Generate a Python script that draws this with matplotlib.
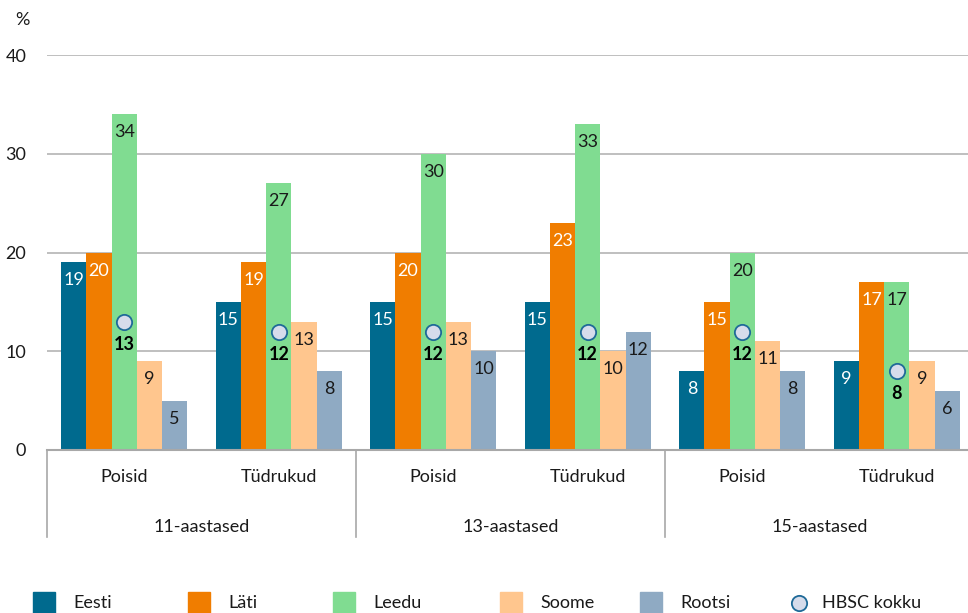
import matplotlib
matplotlib.use("Agg")
import matplotlib.pyplot as plt
import matplotlib.transforms as mtransforms
from matplotlib.patches import Rectangle
from matplotlib.lines import Line2D
import numpy as np

plt.rcParams['font.family'] = ['Lato', 'DejaVu Sans']

categories = ["Poisid", "Tüdrukud", "Poisid", "Tüdrukud", "Poisid", "Tüdrukud"]
age_groups = ["11-aastased", "13-aastased", "15-aastased"]
series_names = ["Eesti", "Läti", "Leedu", "Soome", "Rootsi"]
eesti = [19, 15, 15, 15, 8, 9]
lati = [20, 19, 20, 23, 15, 17]
leedu = [34, 27, 30, 33, 20, 17]
soome = [9, 13, 13, 10, 11, 9]
rootsi = [5, 8, 10, 12, 8, 6]
hbsc = [13, 12, 12, 12, 12, 8]
yticks = [0, 10, 20, 30, 40]

colors = ["#006a8e", "#f07d00", "#80dc91", "#ffc68e", "#8faac3"]
text_colors = ["white", "white", "#1a1a1a", "#1a1a1a", "#1a1a1a"]
marker_face = "#d6dceb"
marker_edge = "#1f6a98"
FS = 13

fig = plt.figure(figsize=(9.68, 6.13), dpi=100)
ax = fig.add_axes([47/968, 1-450/613, 927/968, (450-55)/613])

x = np.arange(len(categories))
w = 0.163
all_series = [eesti, lati, leedu, soome, rootsi]
for i, (vals, c, tc) in enumerate(zip(all_series, colors, text_colors)):
    xs = x + (i - 2) * w
    ax.bar(xs, vals, width=w, color=c, zorder=2)
    for xi, v in zip(xs, vals):
        ax.annotate(str(v), (xi, v), xytext=(0, -13), textcoords="offset points",
                    ha="center", va="center", fontsize=FS, color=tc, zorder=4)

ax.plot(x, hbsc, linestyle="none", marker="o", markersize=11,
        markerfacecolor=marker_face, markeredgecolor=marker_edge, markeredgewidth=1.3, zorder=5)
for xi, v in zip(x, hbsc):
    ax.annotate(str(v), (xi, v), xytext=(0, -16.5), textcoords="offset points",
                ha="center", va="center", fontsize=FS, fontweight="bold", color="black", zorder=5)

ax.set_xlim(-0.5, 5.5)
ax.set_ylim(0, 40)
ax.set_yticks(yticks)
ax.set_yticklabels([str(t) for t in yticks], fontsize=FS, color="#1a1a1a")
ax.yaxis.grid(True, color="#b4b4b4", linewidth=1.2, zorder=0)
ax.set_axisbelow(True)
for s in ["top", "right", "left"]:
    ax.spines[s].set_visible(False)
ax.spines["bottom"].set_color("#a8a8a8")
ax.spines["bottom"].set_linewidth(1.5)
ax.tick_params(axis="y", length=0, pad=15)
ax.tick_params(axis="x", length=0)
ax.set_xticks([])

trans = mtransforms.blended_transform_factory(ax.transData, ax.transAxes)
for xi, lab in zip(x, categories):
    ax.text(xi, -27/395, lab, transform=trans, ha="center", va="center", fontsize=FS, color="#1a1a1a")
for gi, g in enumerate(age_groups):
    ax.text(2*gi + 0.5, -77/395, g, transform=trans, ha="center", va="center", fontsize=FS, color="#1a1a1a")
for xb in [-0.5, 1.5, 3.5]:
    ax.plot([xb, xb], [0, -87/395], transform=trans, color="#a8a8a8", linewidth=1.2, clip_on=False)

fig.text(22/968, 1-20/613, "%", ha="center", va="center", fontsize=FS, color="#1a1a1a")

# Legend
leg_y = 603
sq_x = [33, 188, 333, 500, 640]
for sx, c, name in zip(sq_x, colors, series_names):
    fig.patches.append(Rectangle((sx/968, 1-(leg_y+11)/613), 22/968, 22/613,
                                 transform=fig.transFigure, color=c))
    fig.text((sx+40)/968, 1-leg_y/613, name, ha="left", va="center", fontsize=FS, color="#1a1a1a")
fig.lines.append(Line2D([799/968], [1-leg_y/613], transform=fig.transFigure, marker="o",
                        markersize=11, markerfacecolor=marker_face, markeredgecolor=marker_edge,
                        markeredgewidth=1.3, linestyle="none"))
fig.text(822/968, 1-leg_y/613, "HBSC kokku", ha="left", va="center", fontsize=FS, color="#1a1a1a")

fig.savefig("out.png", dpi=100)
